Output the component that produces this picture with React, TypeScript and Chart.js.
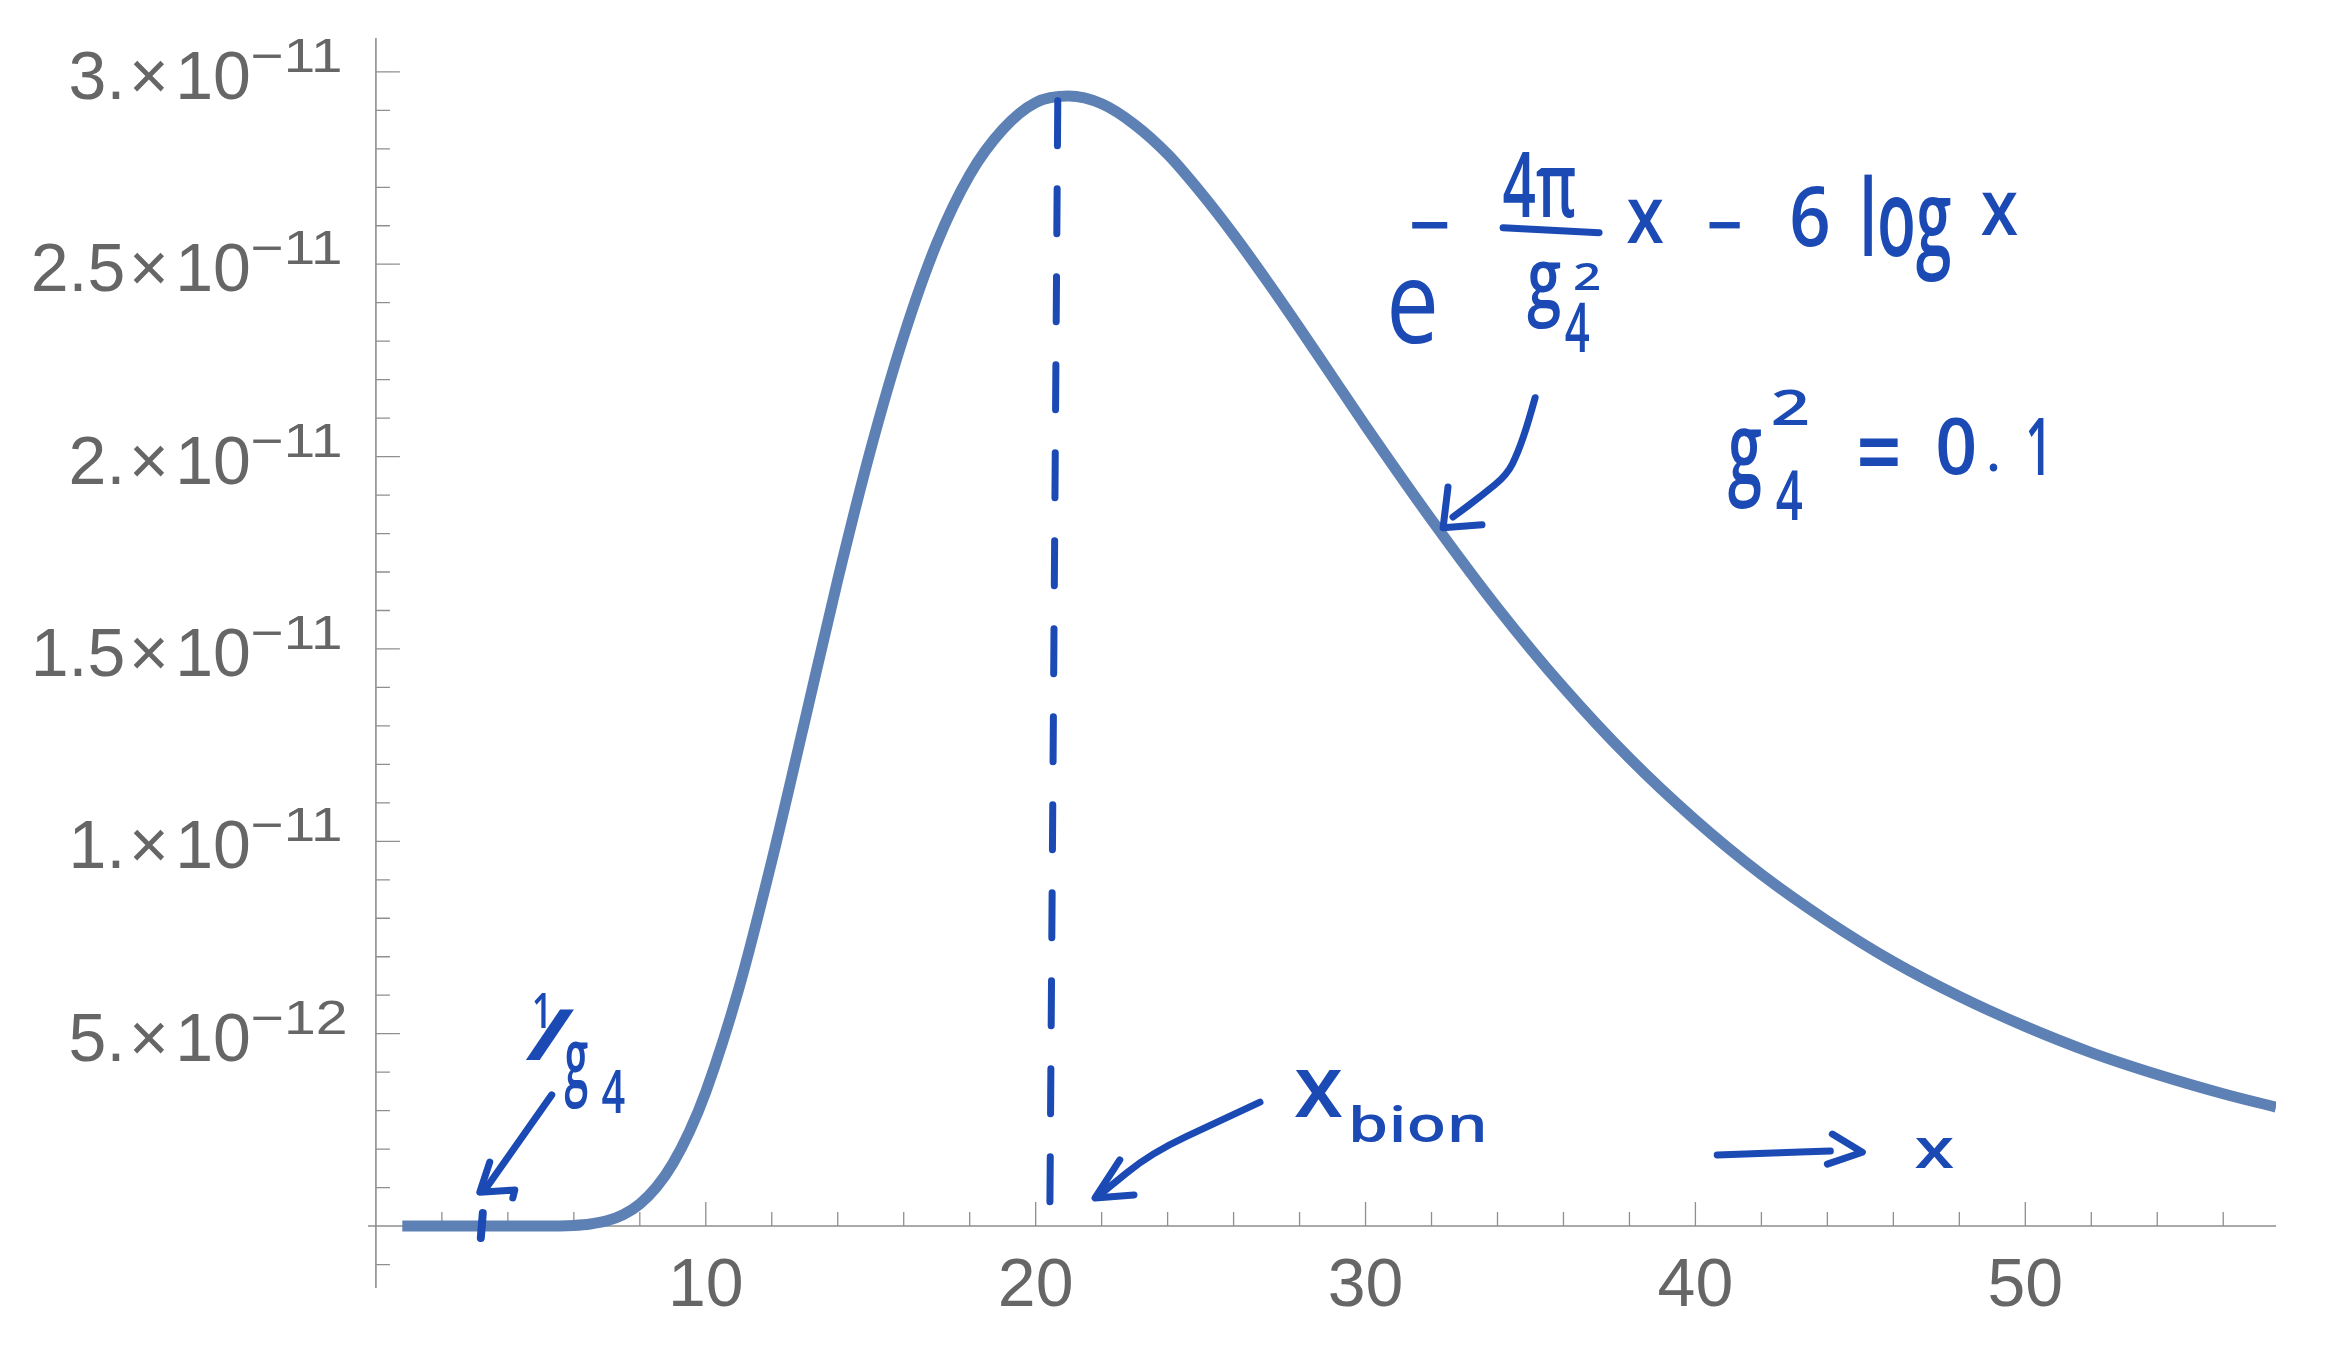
import React, { useEffect, useRef } from "react";
import { Chart, registerables } from "chart.js";

Chart.register(...registerables);

// ---- curve data ----
const xValues = [0.8, 2, 3, 4, 5, 6, 6.5, 7, 7.5, 8, 8.5, 9, 9.5, 10, 11, 12, 13, 14, 15, 16, 17, 18, 19, 20, 21, 22, 23, 24, 25, 26, 27, 28, 29, 30, 32, 34, 36, 38, 40, 42, 44, 46, 48, 50, 52, 54, 56, 57.6];
const yValues = [0, 0, 0, 0, 0, 1.7e-14, 5.3e-14, 1.36e-13, 2.97e-13, 5.75e-13, 1.007e-12, 1.624e-12, 2.447e-12, 3.487e-12, 6.17e-12, 9.49e-12, 1.313e-11, 1.68e-11, 2.019e-11, 2.313e-11, 2.554e-11, 2.732e-11, 2.85e-11, 2.92e-11, 2.937e-11, 2.917e-11, 2.863e-11, 2.786e-11, 2.687e-11, 2.577e-11, 2.458e-11, 2.334e-11, 2.207e-11, 2.08e-11, 1.836e-11, 1.607e-11, 1.4e-11, 1.216e-11, 1.055e-11, 9.14e-12, 7.93e-12, 6.87e-12, 5.97e-12, 5.19e-12, 4.51e-12, 3.94e-12, 3.44e-12, 3.09e-12];

// dashed x_bion marker (x, y)
const bionX = [20.67, 20.43];
const bionY = [2.925e-11, 0.034e-11];

// ---- ticks ----
const xMajorTicks = [10, 20, 30, 40, 50];
const xTickLabels = ["10", "20", "30", "40", "50"];
const xMinorTicks = [2, 4, 6, 8, 12, 14, 16, 18, 22, 24, 26, 28, 32, 34, 36, 38, 42, 44, 46, 48, 52, 54, 56];
const yMajorTicks = [5e-12, 1e-11, 1.5e-11, 2e-11, 2.5e-11, 3e-11];
const yTickMantissas = ["5.", "1.", "1.5", "2.", "2.5", "3."];
const yTickExponents = ["\u221212", "\u221211", "\u221211", "\u221211", "\u221211", "\u221211"];
const yMinorTicks = [-1e-12, 1e-12, 2e-12, 3e-12, 4e-12, 6e-12, 7e-12, 8e-12, 9e-12, 11e-12, 12e-12, 13e-12, 14e-12, 16e-12, 17e-12, 18e-12, 19e-12, 21e-12, 22e-12, 23e-12, 24e-12, 26e-12, 27e-12, 28e-12, 29e-12, 30e-12];

// ---- handwritten annotations (boxes in data units: x1, yTop, x2, yBottom; y in 1e-12) ----
const noteTexts = [
  { t: "e", box: [30.77, 24.6, 32.08, 22.91], w: 400 },
  { t: "\u2212", box: [31.41, 26.11, 32.5, 25.92], w: 600 },
  { t: "4\u03c0", box: [34.17, 27.93, 36.35, 26.21], w: 600 },
  { t: "g", box: [34.9, 25.04, 35.9, 23.3], w: 600 },
  { t: "2", box: [36.35, 25.04, 37.08, 24.34], w: 600 },
  { t: "4", box: [36.05, 24.0, 36.78, 22.72], w: 600 },
  { t: "x", box: [37.93, 26.68, 39.02, 25.56], w: 600 },
  { t: "\u2212", box: [40.42, 26.11, 41.36, 25.92], w: 600 },
  { t: "6", box: [42.93, 27.07, 44.03, 25.46], w: 600 },
  { t: "log", box: [45.12, 27.33, 47.73, 24.55], w: 600 },
  { t: "x", box: [48.67, 26.86, 49.76, 25.77], w: 600 },
  { t: "g", box: [40.99, 20.7, 41.99, 18.62], w: 600 },
  { t: "2", box: [42.36, 21.74, 43.39, 20.83], w: 600 },
  { t: "4", box: [42.45, 19.66, 43.24, 18.36], w: 600 },
  { t: "=", box: [44.97, 20.44, 46.15, 19.73], w: 600 },
  { t: "0", box: [47.36, 21.03, 48.45, 19.53], w: 600 },
  { t: ".", box: [48.91, 19.81, 49.15, 19.6], w: 600 },
  { t: "1", box: [50.1, 21.03, 50.56, 19.53], w: 600 },
  { t: "1", box: [4.8, 6.06, 5.15, 5.15], w: 600 },
  { t: "/", box: [4.51, 5.64, 6.03, 4.32], w: 600 },
  { t: "g", box: [5.72, 4.78, 6.42, 3.02], w: 600 },
  { t: "4", box: [6.85, 4.06, 7.54, 2.94], w: 600 },
  { t: "x", box: [27.86, 4.06, 29.29, 2.83], w: 600 },
  { t: "bion", box: [29.62, 3.15, 33.56, 2.16], w: 600 },
  { t: "x", box: [46.66, 2.29, 47.82, 1.51], w: 600 },
];

const noteStrokes = [
  { pts: [[34.17, 25.95], [37.08, 25.82]], smooth: false, w: 7 },
  { pts: [[35.14, 21.53], [34.93, 20.88], [34.62, 20.1], [34.29, 19.53], [33.56, 19.01], [32.65, 18.43]], smooth: true, w: 7 },
  { pts: [[32.5, 19.21], [32.35, 18.15], [33.53, 18.23]], smooth: false, w: 7 },
  { pts: [[5.33, 3.41], [3.36, 1.01]], smooth: false, w: 7 },
  { pts: [[3.45, 1.66], [3.15, 0.88], [4.21, 0.94], [4.15, 0.73]], smooth: false, w: 7 },
  { pts: [[26.8, 3.22], [25.65, 2.76], [23.5, 1.9], [22.01, 0.86]], smooth: true, w: 7 },
  { pts: [[22.55, 1.72], [21.8, 0.73], [22.98, 0.81]], smooth: false, w: 7 },
  { pts: [[40.66, 1.85], [42.27, 1.9], [44.09, 1.95]], smooth: true, w: 7 },
  { pts: [[44.15, 2.39], [45.06, 1.92], [44.0, 1.61]], smooth: false, w: 7 },
  { pts: [[3.24, 0.34], [3.18, -0.31]], smooth: false, w: 8 },
];

const BLUE = "#1B4AB5";
const CURVE = "#5E81B5";
const AXIS = "#8f8f8f";
const LABEL = "#666666";
const LBL_FONT = "'Liberation Sans', Arial, sans-serif";
const HAND_FAMILY = "'Open Sans', 'DejaVu Sans', sans-serif";

function fitText(ctx: CanvasRenderingContext2D, text: string, font: string, l: number, t: number, r: number, b: number) {
  ctx.save();
  ctx.font = font;
  ctx.textAlign = "left";
  ctx.textBaseline = "alphabetic";
  const m = ctx.measureText(text);
  const w = m.actualBoundingBoxLeft + m.actualBoundingBoxRight;
  const h = m.actualBoundingBoxAscent + m.actualBoundingBoxDescent;
  ctx.translate(l, t);
  ctx.scale((r - l) / w, (b - t) / h);
  ctx.fillText(text, m.actualBoundingBoxLeft, m.actualBoundingBoxAscent);
  ctx.restore();
}

const axesPlugin = {
  id: "mmaAxes",
  beforeDatasetsDraw(chart: any) {
    const { ctx, scales } = chart;
    const xs = scales.x, ys = scales.y;
    const x0 = xs.getPixelForValue(0);
    const y0 = ys.getPixelForValue(0);
    ctx.save();
    ctx.strokeStyle = AXIS;
    ctx.lineWidth = 1.6;
    ctx.beginPath();
    ctx.moveTo(x0, ys.top);
    ctx.lineTo(x0, ys.bottom);
    ctx.moveTo(xs.left, y0);
    ctx.lineTo(xs.right, y0);
    ctx.stroke();
    ctx.lineWidth = 1.3;
    ctx.beginPath();
    xMajorTicks.forEach((v) => { const p = xs.getPixelForValue(v); ctx.moveTo(p, y0); ctx.lineTo(p, y0 - 24); });
    xMinorTicks.forEach((v) => { const p = xs.getPixelForValue(v); ctx.moveTo(p, y0); ctx.lineTo(p, y0 - 14); });
    yMajorTicks.forEach((v) => { const p = ys.getPixelForValue(v); ctx.moveTo(x0, p); ctx.lineTo(x0 + 24, p); });
    yMinorTicks.forEach((v) => { const p = ys.getPixelForValue(v); ctx.moveTo(x0, p); ctx.lineTo(x0 + 14, p); });
    ctx.stroke();

    // x labels
    ctx.fillStyle = LABEL;
    ctx.font = `68px ${LBL_FONT}`;
    ctx.textAlign = "center";
    ctx.textBaseline = "alphabetic";
    xMajorTicks.forEach((v, i) => ctx.fillText(xTickLabels[i], xs.getPixelForValue(v), y0 + 80));

    // y labels: mantissa × 10^exp
    yMajorTicks.forEach((v, i) => {
      const p = ys.getPixelForValue(v);
      const expRight = i === 0 ? x0 - 31 : x0 - 36;
      fitText(ctx, yTickExponents[i], `100px ${LBL_FONT}`, x0 - 123, p - 33, expRight, p);
      ctx.font = `68px ${LBL_FONT}`;
      ctx.textAlign = "right";
      let end = x0 - 125;
      ctx.fillText("10", end, p + 27);
      end -= ctx.measureText("10").width + 6.6;
      ctx.fillText("\u00d7", end, p + 27);
      end -= ctx.measureText("\u00d7").width + 3.7;
      ctx.fillText(yTickMantissas[i], end, p + 27);
    });
    ctx.restore();
  },
  afterDatasetsDraw(chart: any) {
    const { ctx, scales } = chart;
    const xs = scales.x, ys = scales.y;
    const P = (pt: number[]) => [xs.getPixelForValue(pt[0]), ys.getPixelForValue(pt[1] * 1e-12)];
    ctx.save();
    ctx.strokeStyle = BLUE;
    ctx.fillStyle = BLUE;
    ctx.lineCap = "round";
    ctx.lineJoin = "round";
    noteStrokes.forEach((s) => {
      const pts = s.pts.map(P);
      ctx.lineWidth = s.w;
      ctx.beginPath();
      ctx.moveTo(pts[0][0], pts[0][1]);
      if (s.smooth && pts.length > 2) {
        for (let i = 1; i < pts.length - 1; i++) {
          const mx = (pts[i][0] + pts[i + 1][0]) / 2;
          const my = (pts[i][1] + pts[i + 1][1]) / 2;
          ctx.quadraticCurveTo(pts[i][0], pts[i][1], mx, my);
        }
        const last = pts[pts.length - 1];
        ctx.lineTo(last[0], last[1]);
      } else {
        for (let i = 1; i < pts.length; i++) ctx.lineTo(pts[i][0], pts[i][1]);
      }
      ctx.stroke();
    });
    noteTexts.forEach((n) => {
      const [l, t] = P([n.box[0], n.box[1]]);
      const [r, b] = P([n.box[2], n.box[3]]);
      fitText(ctx, n.t, `${n.w} 100px ${HAND_FAMILY}`, l, t, r, b);
    });
    ctx.restore();
  },
};

export default function App() {
  const ref = useRef<HTMLCanvasElement>(null);
  useEffect(() => {
    if (!ref.current) return;
    const chart = new Chart(ref.current, {
      type: "line",
      data: {
        datasets: [
          {
            data: bionX.map((x, i) => ({ x, y: bionY[i] })),
            borderColor: BLUE,
            borderWidth: 7,
            borderDash: [45, 43],
            borderCapStyle: "round",
            pointRadius: 0,
            order: 1,
          },
          {
            data: xValues.map((x, i) => ({ x, y: yValues[i] })),
            borderColor: CURVE,
            borderWidth: 11,
            pointRadius: 0,
            cubicInterpolationMode: "monotone",
            fill: false,
            order: 2,
          },
        ],
      },
      options: {
        responsive: false,
        animation: false,
        devicePixelRatio: 1,
        events: [],
        layout: { padding: { left: 368, right: 49, top: 38, bottom: 57 } },
        plugins: { legend: { display: false }, tooltip: { enabled: false } },
        scales: {
          x: { type: "linear", min: -0.24, max: 57.6, display: false },
          y: { type: "linear", min: -1.61e-12, max: 30.88e-12, display: false },
        },
      },
      plugins: [axesPlugin],
    } as any);
    return () => chart.destroy();
  }, []);
  return (
    <div style={{ position: "fixed", left: 0, top: 0, width: 2325, height: 1345, background: "#fff" }}>
      <canvas ref={ref} width={2325} height={1345} style={{ display: "block" }} />
    </div>
  );
}
